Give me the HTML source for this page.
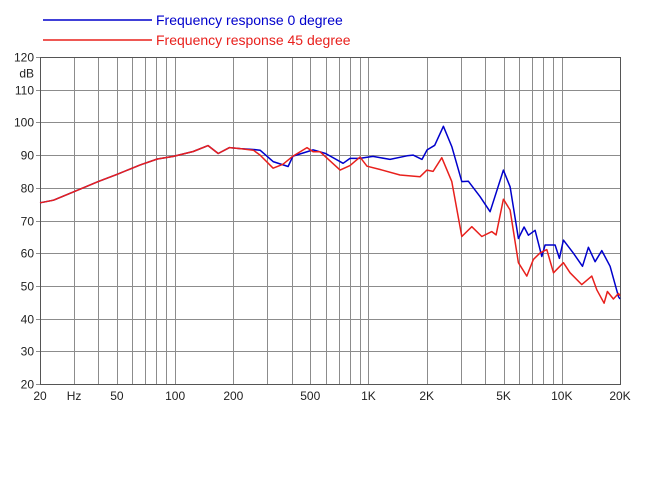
<!DOCTYPE html>
<html><head><meta charset="utf-8"><style>
body{margin:0;background:#fff;}
svg{display:block;font-family:"Liberation Sans",Arial,sans-serif;}
</style></head><body>
<svg id="chart" width="663" height="491">
<g id="grid"></g>
<g id="labels"></g>
<g id="series"></g>
<g>
<line x1="43" y1="20" x2="152" y2="20" stroke="#0000cc" stroke-width="1.5"/>
<text x="156" y="25" font-size="14" fill="#0000cc">Frequency response 0 degree</text>
<line x1="43" y1="40" x2="152" y2="40" stroke="#e8201c" stroke-width="1.5"/>
<text x="156" y="45" font-size="14" fill="#e8201c">Frequency response 45 degree</text>
</g>
</svg>
<script>
const yTicks=[20,30,40,50,60,70,80,90,100,110,120];
const xTickFreqs=[20,30,50,100,200,500,1000,2000,5000,10000,20000];
const xTickLabels=["20","Hz","50","100","200","500","1K","2K","5K","10K","20K"];
const gridFreqs=[20,30,40,50,60,70,80,90,100,200,300,400,500,600,700,800,900,1000,2000,3000,4000,5000,6000,7000,8000,9000,10000,20000];
const freqs0=[20,23.5,30,40,50,66,81,98,124,148,167,191,217,254,275,321,384,407,517,600,739,803,900,1056,1293,1584,1702,1893,2010,2200,2440,2698,3040,3286,3776,4256,4988,5400,5962,6381,6716,7278,7878,8200,9232,9720,10190,11480,12790,13720,14860,16100,17780,19640,20000];
const db0=[75.4,76.2,78.8,81.9,84.1,87,88.8,89.6,91.1,92.9,90.5,92.3,92,91.7,91.5,88,86.5,89.7,91.6,90.5,87.5,89,89,89.6,88.7,89.8,90,88.7,91.6,93,98.8,92.6,81.9,82,77.3,72.7,85.4,80.3,64.5,68,65.5,67,59,62.5,62.5,58.4,64,60,56,61.8,57.4,60.8,56,46.7,46];
const freqs45=[20,23.5,30,40,50,66,81,98,124,148,167,191,217,254,275,321,361,407,481,517,562,713,803,904,983,1148,1456,1850,2005,2160,2394,2698,3040,3422,3855,4346,4571,4988,5400,5962,6590,7130,7724,8360,9054,10190,11040,12690,14290,15170,16550,17210,18490,19640,20000];
const db45=[75.4,76.2,78.8,81.9,84.1,87,88.8,89.6,91.1,92.9,90.5,92.3,92,91.5,90,86,87.2,89.7,92.3,91,91,85.4,86.8,89.4,86.6,85.6,83.9,83.4,85.4,85,89.2,81.9,65.1,68.1,65.1,66.6,65.6,76.5,73.2,57.1,53,58.1,60.1,61.1,54,57.1,54,50.4,53,48.8,44.7,48.3,46,47.7,47];

const X0=40,X1=620,Y0=384,Y1=57;
const xs=f=>X0+(Math.log10(f/20)/3)*(X1-X0);
const ys=v=>Y0-(v-20)/100*(Y0-Y1);
const NS="http://www.w3.org/2000/svg";
function mk(t,a,p){const e=document.createElementNS(NS,t);for(const k in a)e.setAttribute(k,a[k]);p.appendChild(e);return e;}
const grid=document.getElementById('grid'),labels=document.getElementById('labels'),series=document.getElementById('series');
gridFreqs.forEach(f=>{const x=Math.round(xs(f))+0.5;
 const l=mk('line',{x1:x,y1:Y1,x2:x,y2:Y0,stroke:'#8c8c8c','stroke-width':1},grid);
 
 });
yTicks.forEach(v=>{const y=Math.round(ys(v))+0.5;
 const l=mk('line',{x1:X0-4,y1:y,x2:X1,y2:y,stroke:'#8c8c8c','stroke-width':1},grid);
 
 
 const t=mk('text',{x:34,y:y+4,'font-size':12,'text-anchor':'end',fill:'#222'},labels);t.textContent=v;
 
 });
const du=mk('text',{x:34,y:ys(115)+4,'font-size':12,'text-anchor':'end',fill:'#222'},labels);du.textContent='dB';


const fr=mk('rect',{x:X0+0.5,y:Math.round(Y1)+0.5,width:X1-X0,height:Y0-Y1,fill:'none',stroke:'#555'},grid);


xTickFreqs.forEach((f,i)=>{const t=mk('text',{x:xs(f),y:400,'font-size':12,'text-anchor':'middle',fill:'#222'},labels);t.textContent=xTickLabels[i];
 
 });
function path(fs,ds,c,name){const d=fs.map((f,i)=>(i?'L':'M')+xs(f).toFixed(1)+','+ys(ds[i]).toFixed(1)).join('');
 const p=mk('path',{d:d,fill:'none',stroke:c,'stroke-width':1.5,'stroke-linejoin':'round'},series);
 
 }
path(freqs0,db0,'#0000cc','series-0-degree');
path(freqs45,db45,'#e8201c','series-45-degree');
</script>
</body></html>
